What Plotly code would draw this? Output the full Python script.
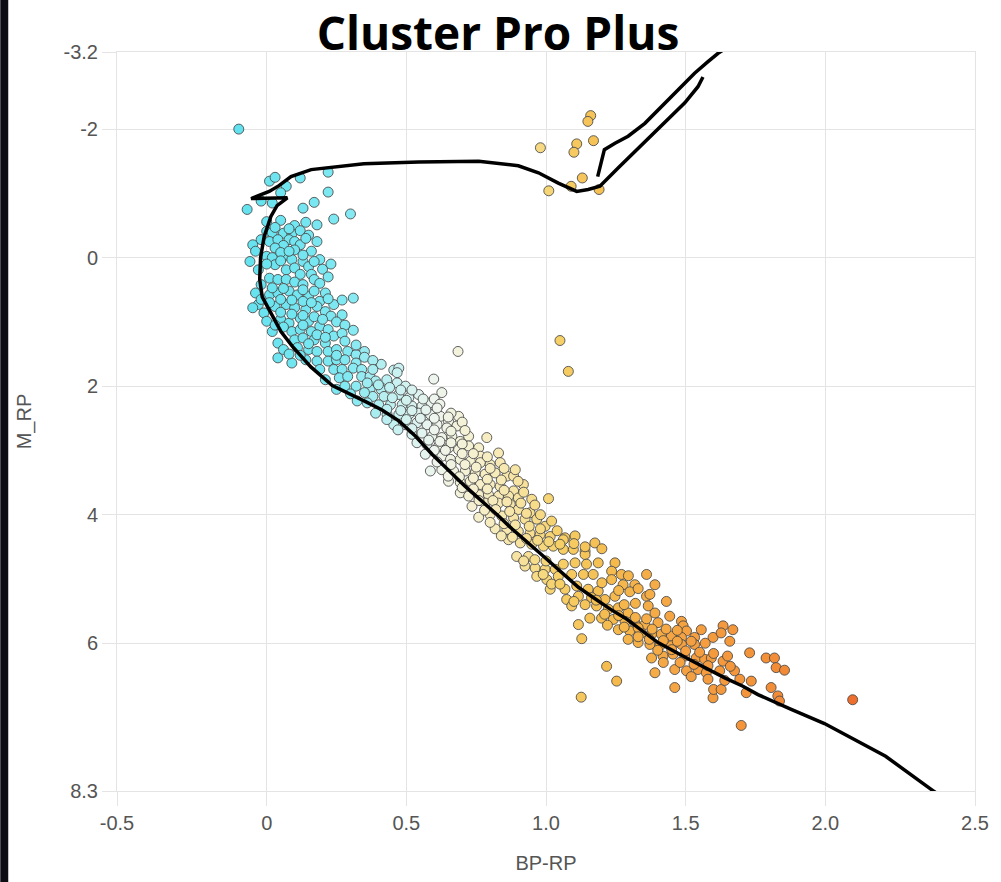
import plotly.graph_objects as go

# ---- cluster members: (BP-RP colour, absolute RP magnitude) ----
turnoff_stars = [
    (-0.10, -2.00), (0.01, -1.19), (0.03, -1.25), (0.07, -1.11), (0.12, -1.24), (0.22, -1.33),
    (0.22, -1.02), (-0.07, -0.75), (-0.02, -0.88), (0.02, -0.85), (0.05, -1.01), (0.13, -0.77),
    (0.17, -0.86), (0.24, -0.60), (0.30, -0.68), (0.00, -0.56), (0.05, -0.58), (0.10, -0.50),
    (0.14, -0.55), (0.18, -0.51), (0.00, -0.41), (0.02, -0.39), (0.06, -0.38), (0.09, -0.37),
    (-0.02, -0.28), (0.01, -0.25), (0.04, -0.28), (0.08, -0.28), (0.10, -0.25), (0.12, -0.20),
    (0.16, -0.10), (0.06, -0.19), (0.03, -0.15), (0.10, -0.12), (-0.06, 0.06), (0.00, -0.02),
    (0.02, 0.00), (0.06, -0.02), (0.09, 0.03), (0.13, 0.06), (0.19, 0.03), (0.15, 0.14),
    (0.20, 0.18), (-0.03, 0.19), (0.03, 0.11), (0.07, 0.19), (0.10, 0.16), (0.12, 0.26),
    (0.16, 0.26), (0.01, 0.32), (0.04, 0.34), (0.07, 0.34), (0.10, 0.38), (0.13, 0.42),
    (0.17, 0.34), (0.19, 0.40), (-0.02, 0.42), (-0.05, -0.20), (-0.04, -0.10),
    (0.03, -0.47), (0.08, -0.45), (0.12, -0.42), (0.15, -0.35), (0.14, -0.30), (0.18, -0.25),
    (0.05, -0.08), (0.08, -0.10), (0.13, -0.04), (0.00, 0.10), (0.05, 0.05), (0.17, 0.06),
    (0.22, 0.30), (0.23, 0.10),
]

upper_ms_stars = [
    (-0.03, 0.73), (0.01, 0.58), (0.04, 0.55), (0.08, 0.52), (0.11, 0.58), (0.15, 0.60),
    (0.19, 0.68), (0.24, 0.73), (0.31, 0.63), (-0.05, 0.78), (-0.01, 0.86), (0.03, 0.76),
    (0.07, 0.73), (0.10, 0.78), (0.14, 0.81), (0.18, 0.76), (0.21, 0.84), (0.23, 0.91),
    (0.27, 0.89), (0.00, 0.99), (0.02, 1.15), (0.05, 0.96), (0.08, 1.02), (0.12, 0.94),
    (0.15, 0.99), (0.19, 1.07), (0.09, 1.15), (0.12, 1.12), (0.16, 1.15), (0.22, 1.12),
    (0.24, 1.22), (0.31, 1.13), (0.04, 1.33), (0.06, 1.43), (0.10, 1.28), (0.13, 1.25),
    (0.17, 1.28), (0.21, 1.33), (0.11, 1.40), (0.15, 1.43), (0.18, 1.46), (0.22, 1.46),
    (0.25, 1.43), (0.29, 1.46), (0.35, 1.46), (0.04, 1.56), (0.09, 1.64), (0.14, 1.59),
    (0.18, 1.61), (0.22, 1.61), (0.25, 1.59), (0.28, 1.59), (0.32, 1.51), (0.32, 1.64),
    (0.19, 1.74), (0.24, 1.74), (0.27, 1.74), (0.31, 1.72), (0.34, 1.74), (0.41, 1.66),
    (0.21, 1.90), (0.26, 1.87), (0.29, 1.85), (0.34, 1.85), (0.37, 1.85), (0.39, 1.92),
    (0.43, 1.90), (0.25, 2.05), (0.28, 2.00), (0.32, 2.00), (0.37, 2.05), (0.41, 2.05),
    (0.38, 2.16), (0.42, 2.16),
    (0.02, 0.47), (0.06, 0.48), (0.13, 0.50), (0.17, 0.52), (0.21, 0.55), (-0.04, 0.55),
    (-0.02, 0.65), (0.05, 0.65), (0.09, 0.66), (0.13, 0.68), (0.16, 0.70), (0.22, 0.64),
    (0.27, 0.66), (0.01, 0.70), (0.05, 0.85), (0.09, 0.88), (0.13, 0.90), (0.17, 0.92),
    (0.20, 0.96), (0.25, 1.00), (0.28, 1.05), (0.03, 1.05), (0.06, 1.08), (0.13, 1.05),
    (0.18, 1.20), (0.21, 1.24), (0.27, 1.18), (0.28, 1.30), (0.32, 1.36), (0.15, 1.34),
    (0.08, 1.50), (0.12, 1.52), (0.25, 1.52), (0.35, 1.55), (0.38, 1.60), (0.38, 1.74),
]

mid_ms_stars = [
    (0.455, 1.75), (0.473, 1.72), (0.467, 1.79), (0.598, 1.89), (0.467, 1.95), (0.497, 2.00),
    (0.473, 2.13), (0.509, 2.18), (0.544, 2.13), (0.627, 2.10), (0.586, 2.26), (0.324, 2.23),
    (0.360, 2.26), (0.401, 2.29), (0.443, 2.29), (0.485, 2.29), (0.520, 2.31), (0.556, 2.31),
    (0.390, 2.42), (0.431, 2.44), (0.455, 2.60), (0.685, 1.46),
    (0.473, 2.44), (0.509, 2.44), (0.544, 2.42), (0.586, 2.44), (0.622, 2.47), (0.651, 2.55),
    (0.687, 2.47), (0.497, 2.60), (0.538, 2.57), (0.574, 2.60), (0.610, 2.60), (0.645, 2.65),
    (0.681, 2.62), (0.788, 2.80), (0.520, 2.75), (0.556, 2.73), (0.592, 2.78), (0.627, 2.80),
    (0.663, 2.78), (0.693, 2.86), (0.723, 2.78), (0.538, 2.88), (0.574, 2.91), (0.616, 2.93),
    (0.651, 2.96), (0.687, 2.99), (0.723, 2.93), (0.759, 2.96), (0.765, 3.09), (0.830, 3.04),
    (0.568, 3.06), (0.586, 3.32), (0.627, 3.09), (0.658, 3.14), (0.693, 3.14), (0.729, 3.17),
    (0.765, 3.19), (0.800, 3.22), (0.836, 3.19), (0.860, 3.40), (0.884, 3.40), (0.627, 3.30),
    (0.669, 3.32), (0.711, 3.32), (0.747, 3.35), (0.782, 3.37), (0.818, 3.35), (0.651, 3.48),
    (0.693, 3.50), (0.729, 3.48), (0.765, 3.53), (0.800, 3.53), (0.836, 3.56), (0.884, 3.63),
    (0.919, 3.53), (0.949, 3.76), (1.009, 3.75), (0.693, 3.66), (0.723, 3.71), (0.759, 3.69),
    (0.794, 3.69), (0.830, 3.71), (0.866, 3.71), (0.901, 3.74), (0.735, 3.87), (0.759, 4.04),
    (0.36, 1.95), (0.40, 1.98), (0.44, 2.02), (0.48, 2.06), (0.52, 2.06), (0.56, 2.20),
    (0.60, 2.20), (0.50, 2.22), (0.45, 2.18), (0.35, 2.10), (0.30, 2.12), (0.62, 2.28),
    (0.66, 2.42), (0.70, 2.56), (0.43, 2.36), (0.48, 2.38), (0.52, 2.38), (0.57, 2.37),
    (0.61, 2.34), (0.43, 2.52), (0.50, 2.52), (0.55, 2.50), (0.60, 2.50), (0.65, 2.48),
    (0.47, 2.68), (0.52, 2.66), (0.60, 2.68), (0.66, 2.70), (0.71, 2.69),
    (0.58, 2.84), (0.62, 2.86), (0.66, 2.88), (0.70, 2.90), (0.60, 3.00), (0.64, 3.00),
    (0.70, 3.05), (0.74, 3.05), (0.79, 3.10), (0.61, 3.18), (0.66, 3.22), (0.71, 3.22),
    (0.75, 3.26), (0.80, 3.28), (0.85, 3.28), (0.89, 3.30), (0.65, 3.40), (0.69, 3.41),
    (0.74, 3.43), (0.79, 3.45), (0.84, 3.46), (0.90, 3.48), (0.70, 3.58), (0.74, 3.60),
    (0.79, 3.60), (0.85, 3.62), (0.92, 3.65),
]

lower_ms_stars = [
    (0.782, 3.82), (0.830, 3.82), (0.872, 3.84), (0.901, 3.92), (0.943, 3.97), (0.800, 4.00),
    (0.842, 4.02), (0.884, 4.05), (0.925, 4.07), (0.967, 4.07), (0.997, 4.18), (1.068, 4.36),
    (1.104, 4.33), (1.062, 4.39), (1.175, 4.44), (0.818, 4.22), (0.860, 4.23), (0.901, 4.26),
    (0.943, 4.29), (0.979, 4.31), (1.015, 4.34), (0.866, 4.39), (0.908, 4.44), (0.949, 4.46),
    (0.991, 4.49), (1.026, 4.49), (1.062, 4.54), (1.098, 4.54), (1.140, 4.57), (1.140, 4.62),
    (0.895, 4.65), (0.937, 4.65), (0.925, 4.80), (0.961, 4.83), (0.997, 4.85), (1.033, 4.85),
    (0.967, 4.96), (1.003, 5.01), (1.015, 5.16),
    (1.062, 4.77), (1.104, 4.75), (1.145, 4.77), (1.187, 4.75), (1.247, 4.75), (1.235, 4.88),
    (1.270, 4.93), (1.295, 4.95), (1.360, 4.93), (1.044, 4.96), (1.092, 4.93), (1.134, 4.93),
    (1.169, 4.93), (1.235, 5.01), (1.276, 5.09), (1.318, 5.09), (1.390, 5.09), (1.068, 5.16),
    (1.110, 5.11), (1.151, 5.16), (1.187, 5.19), (1.074, 5.32), (1.116, 5.27), (1.163, 5.29),
    (1.211, 5.32), (1.247, 5.27), (1.360, 5.27), (1.372, 5.24), (1.092, 5.42), (1.140, 5.40),
    (1.181, 5.42), (1.223, 5.47), (1.259, 5.45), (1.294, 5.53), (1.366, 5.42), (1.431, 5.35),
    (1.390, 5.53), (1.443, 5.58), (1.485, 5.66), (1.116, 5.71), (1.157, 5.61), (1.199, 5.61),
    (1.241, 5.63), (1.283, 5.66), (1.318, 5.68), (1.354, 5.71), (1.401, 5.68), (1.491, 5.73),
    (1.503, 5.81), (1.556, 5.79), (1.128, 5.93), (1.259, 5.79), (1.300, 5.81), (1.342, 5.84),
    (1.378, 5.86), (1.413, 5.86), (1.449, 5.89), (1.485, 5.91), (1.532, 5.91), (1.598, 5.91),
    (1.294, 5.94), (1.330, 5.99), (1.372, 6.02), (1.408, 6.04), (1.449, 6.04), (1.485, 6.02),
    (1.532, 6.02), (1.378, 6.23), (1.419, 6.20), (1.455, 6.17), (1.497, 6.20), (1.538, 6.23),
    (1.568, 6.25), (1.592, 6.23), (1.390, 6.46), (1.461, 6.41), (1.503, 6.43), (1.544, 6.41),
    (1.574, 6.46), (1.217, 6.36), (1.253, 6.59), (1.461, 6.69), (1.126, 6.84),
    (0.76, 3.78), (0.81, 3.78), (0.86, 3.80), (0.91, 3.82), (0.96, 3.85), (0.78, 3.93),
    (0.82, 3.92), (0.87, 3.95), (0.93, 3.98), (0.98, 4.00), (1.02, 4.10), (0.80, 4.12),
    (0.85, 4.14), (0.89, 4.16), (0.94, 4.18), (0.98, 4.22), (1.04, 4.25), (0.84, 4.33),
    (0.88, 4.35), (0.93, 4.37), (0.97, 4.40), (1.01, 4.42), (1.05, 4.46), (1.10, 4.45),
    (1.14, 4.50), (1.20, 4.53), (0.92, 4.72), (0.96, 4.70), (1.00, 4.72), (0.99, 4.93),
    (1.02, 5.08), (1.05, 5.08), (1.20, 5.06), (1.26, 5.18), (1.30, 5.20), (1.33, 5.15),
    (1.10, 5.35), (1.18, 5.33), (1.28, 5.40), (1.32, 5.38), (1.21, 5.55), (1.26, 5.57),
    (1.32, 5.60), (1.36, 5.62), (1.22, 5.72), (1.28, 5.75), (1.33, 5.76), (1.38, 5.78),
    (1.43, 5.78), (1.47, 5.80), (1.33, 5.90), (1.37, 5.94), (1.42, 5.96), (1.47, 5.97),
    (1.52, 5.97), (1.57, 6.00), (1.40, 6.11), (1.45, 6.10), (1.50, 6.12), (1.55, 6.14),
    (1.60, 6.16), (1.42, 6.30), (1.48, 6.30), (1.53, 6.33), (1.58, 6.35), (1.52, 6.52),
    (1.58, 6.56),
]

red_dwarf_stars = [
    (1.634, 5.73), (1.627, 5.84), (1.669, 5.79), (1.658, 5.97), (1.729, 6.15), (1.788, 6.23),
    (1.818, 6.23), (1.824, 6.38), (1.854, 6.42), (1.634, 6.28), (1.622, 6.43), (1.675, 6.43),
    (1.694, 6.56), (1.735, 6.59), (1.717, 6.77), (1.806, 6.69), (1.830, 6.82), (1.836, 6.90),
    (1.598, 6.85), (1.600, 6.72), (1.627, 6.72), (1.699, 7.28), (2.098, 6.88),
    (1.65, 6.20), (1.66, 6.36), (1.64, 6.58),
]

giant_stars = [
    (0.98, -1.71), (1.16, -2.21), (1.15, -2.12), (1.11, -1.77), (1.10, -1.64), (1.17, -1.82),
    (1.13, -1.24), (1.09, -1.11), (1.01, -1.04), (1.19, -1.06), (1.05, 1.29), (1.08, 1.77),
]

# ---- isochrone: main sequence -> turnoff hook -> subgiant -> red giant branch ----
iso_bp = [2.47, 2.384, 2.216, 2.086, 1.997, 1.878, 1.759, 1.705, 1.640, 1.520, 1.401, 1.284,
          1.230, 1.169, 1.116, 0.997, 0.878, 0.830, 0.711, 0.592, 0.533, 0.473, 0.413, 0.354,
          0.294, 0.235, 0.158, 0.092, 0.051, 0.015, -0.016, -0.025, -0.022, -0.009, 0.015,
          0.037, 0.074, -0.056, 0.009, 0.044, 0.087, 0.159, 0.251, 0.348, 0.544, 0.759, 0.901,
          0.973, 1.044, 1.110, 1.151, 1.193, 1.259, 1.318, 1.378, 1.437, 1.497, 1.544, 1.562]
iso_m = [8.55, 8.29, 7.76, 7.45, 7.25, 7.03, 6.80, 6.67, 6.54, 6.27, 5.99, 5.61,
         5.47, 5.29, 5.13, 4.67, 4.22, 4.02, 3.56, 3.06, 2.78, 2.54, 2.37, 2.24,
         2.12, 1.99, 1.70, 1.38, 1.15, 0.86, 0.61, 0.34, 0.00, -0.33, -0.64,
         -0.81, -0.93, -0.92, -1.03, -1.12, -1.26, -1.37, -1.42, -1.46, -1.49, -1.50, -1.43,
         -1.32, -1.16, -1.03, -1.06, -1.11, -1.40, -1.65, -1.89, -2.15, -2.41, -2.66, -2.81]

# ---- isochrone: clump / asymptotic giant branch ----
agb_bp = [1.185, 1.209, 1.247, 1.294, 1.354, 1.413, 1.473, 1.532, 1.580, 1.616, 1.669]
agb_m = [-1.26, -1.68, -1.78, -1.89, -2.09, -2.35, -2.61, -2.87, -3.05, -3.18, -3.33]

x_ticks = [-0.536, 0, 0.5, 1.0, 1.5, 2.0, 2.536]
x_labels = ["-0.5", "0", "0.5", "1.0", "1.5", "2.0", "2.5"]
y_ticks = [-3.2, -2, 0, 2, 4, 6, 8.3]
y_labels = ["-3.2", "-2", "0", "2", "4", "6", "8.3"]

stars = (turnoff_stars + upper_ms_stars + mid_ms_stars + lower_ms_stars
         + red_dwarf_stars + giant_stars)
star_bp = [s[0] for s in stars]
star_m = [s[1] for s in stars]

colour_scale = [
    [0.000, "#62e2ef"],
    [0.180, "#82e9f2"],
    [0.250, "#c4f0f1"],
    [0.318, "#eef5ee"],
    [0.386, "#f6f0cf"],
    [0.455, "#f7e4a2"],
    [0.523, "#f6cf66"],
    [0.614, "#f5b94c"],
    [0.727, "#f5a141"],
    [0.864, "#f38f38"],
    [1.000, "#ee6e2d"],
]

fig = go.Figure()

fig.add_trace(go.Scatter(
    x=star_bp, y=star_m, mode="markers",
    marker=dict(size=10, color=star_bp, colorscale=colour_scale, cmin=-0.1, cmax=2.1,
                line=dict(color="rgba(70,70,70,0.85)", width=1)),
    hoverinfo="x+y", showlegend=False,
))

for bx, my in ((iso_bp, iso_m), (agb_bp, agb_m)):
    fig.add_trace(go.Scatter(
        x=bx, y=my, mode="lines",
        line=dict(color="black", width=3.5),
        hoverinfo="skip", showlegend=False,
    ))

axis_font = dict(family="Liberation Sans, Arial, sans-serif", size=20, color="#555555")
grid = "#e4e4e4"

fig.update_layout(
    width=1001, height=882,
    margin=dict(l=117, r=24, t=52, b=90),
    paper_bgcolor="white", plot_bgcolor="white",
    title=dict(text="<b>Cluster Pro Plus</b>", x=0.4975, xanchor="center",
               y=1 - 34 / 882, yanchor="middle", yref="container",
               font=dict(family="Open Sans, sans-serif", size=46, color="black")),
    xaxis=dict(range=[-0.536, 2.536], tickvals=x_ticks, ticktext=x_labels,
               showgrid=True, gridcolor=grid, gridwidth=1, zeroline=False,
               showline=True, linecolor=grid, mirror=True,
               ticks="outside", ticklen=14, tickcolor=grid, tickfont=axis_font,
               title=dict(text="BP-RP", font=axis_font, standoff=22)),
    yaxis=dict(range=[8.3, -3.2], tickvals=y_ticks, ticktext=y_labels,
               showgrid=True, gridcolor=grid, gridwidth=1, zeroline=False,
               showline=True, linecolor=grid, mirror=True,
               ticks="outside", ticklen=14, tickcolor=grid, tickfont=axis_font,
               title=dict(text="M_RP", font=axis_font, standoff=26)),
    shapes=[dict(type="rect", xref="paper", yref="paper",
                 x0=-117 / 860, x1=-109 / 860, y0=-0.13, y1=1.08,
                 fillcolor="#0c0c14", line=dict(width=0), layer="below")],
)

fig.write_html("out.html")
